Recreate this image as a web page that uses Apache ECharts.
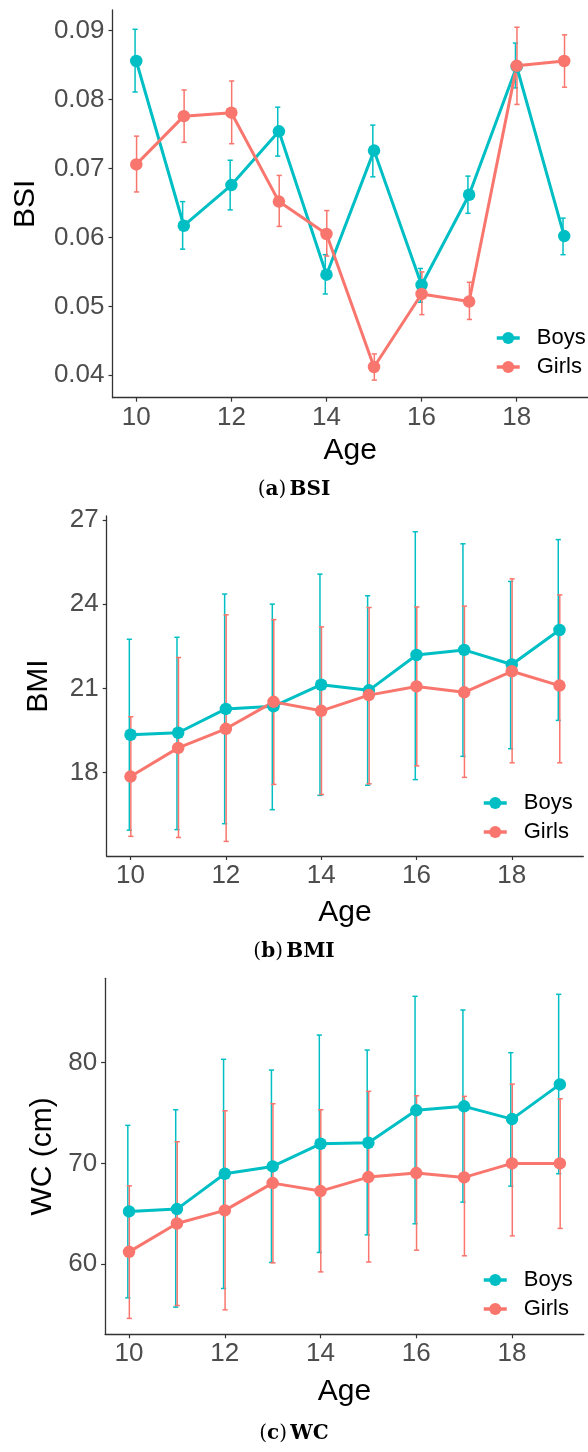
<!DOCTYPE html>
<html><head><meta charset="utf-8">
<script src="https://cdn.jsdelivr.net/npm/echarts@6/dist/echarts.min.js"></script>
<style>html,body{margin:0;padding:0;background:#fff;}#c{width:588px;height:1452px;}</style>
</head><body><div id="c"></div>
<script>
// ---- data ----
const ages = [10, 11, 12, 13, 14, 15, 16, 17, 18, 19];
const xTicks = [10, 12, 14, 16, 18];

const boysBSI   = [0.0856, 0.0617, 0.0676, 0.0754, 0.0546, 0.0726, 0.0531, 0.0662, 0.0848, 0.0602];
const boysBSIlo = [0.0811, 0.0583, 0.0640, 0.0718, 0.0518, 0.0688, 0.0506, 0.0635, 0.0817, 0.0575];
const boysBSIhi = [0.0902, 0.0652, 0.0712, 0.0789, 0.0575, 0.0763, 0.0555, 0.0689, 0.0882, 0.0628];
const girlsBSI   = [0.0706, 0.0776, 0.0781, 0.0652, 0.0605, 0.0412, 0.0518, 0.0507, 0.0849, 0.0856];
const girlsBSIlo = [0.0666, 0.0738, 0.0736, 0.0616, 0.0573, 0.0393, 0.0488, 0.0481, 0.0793, 0.0818];
const girlsBSIhi = [0.0747, 0.0814, 0.0827, 0.0690, 0.0639, 0.0431, 0.0550, 0.0535, 0.0905, 0.0894];
const bsiTicks = [0.04, 0.05, 0.06, 0.07, 0.08, 0.09];

const boysBMI   = [19.35, 19.42, 20.27, 20.36, 21.13, 20.93, 22.19, 22.37, 21.85, 23.08];
const boysBMIlo = [15.95, 15.97, 16.18, 16.68, 17.19, 17.55, 17.75, 18.58, 18.85, 19.86];
const boysBMIhi = [22.75, 22.82, 24.36, 24.00, 25.07, 24.30, 26.58, 26.15, 24.81, 26.30];
const girlsBMI   = [17.86, 18.88, 19.56, 20.52, 20.20, 20.76, 21.07, 20.86, 21.61, 21.10];
const girlsBMIlo = [15.73, 15.69, 15.55, 17.58, 17.22, 17.60, 18.24, 17.83, 18.35, 18.35];
const girlsBMIhi = [19.99, 22.10, 23.62, 23.45, 23.19, 23.88, 23.90, 23.93, 24.90, 24.33];
const bmiTicks = [18, 21, 24, 27];

const boysWC   = [65.23, 65.46, 68.97, 69.70, 71.95, 72.05, 75.27, 75.67, 74.40, 77.85];
const boysWClo = [56.64, 55.72, 57.57, 60.16, 61.15, 62.90, 64.00, 66.15, 67.74, 68.97];
const boysWChi = [73.78, 75.33, 80.34, 79.27, 82.75, 81.26, 86.60, 85.24, 81.00, 86.80];
const girlsWC   = [61.21, 64.03, 65.33, 68.04, 67.25, 68.64, 69.04, 68.61, 70.00, 70.00];
const girlsWClo = [54.60, 55.88, 55.45, 60.12, 59.22, 60.20, 61.38, 60.82, 62.80, 63.54];
const girlsWChi = [67.77, 72.15, 75.23, 75.93, 75.33, 77.16, 76.72, 76.66, 77.88, 76.42];
const wcTicks = [60, 70, 80];

const seriesNames = ['Boys', 'Girls'];
const xTitle = 'Age';

// ---- layout / style ----
const BOYS = '#00BFC4', GIRLS = '#F8766D';
const FONT = '"Liberation Sans", Arial, sans-serif';
const panels = [
  { yName: 'BSI', caption: ['a', 'BSI'], ticks: bsiTicks, fmt: v => v.toFixed(2),
    b: [boysBSI, boysBSIlo, boysBSIhi], g: [girlsBSI, girlsBSIlo, girlsBSIhi],
    grid: { left: 112.5, top: 10, width: 480, height: 387.7 }, ymin: 0.03675, ymax: 0.0930,
    yGap: 72, xGap: 38, legend: { left: 490, top: 320 }, capY: 493 },
  { yName: 'BMI', caption: ['b', 'BMI'], ticks: bmiTicks, fmt: v => String(v),
    b: [boysBMI, boysBMIlo, boysBMIhi], g: [girlsBMI, girlsBMIlo, girlsBMIhi],
    grid: { left: 106.7, top: 516, width: 476.6, height: 340 }, ymin: 15.03, ymax: 27.14,
    yGap: 53, xGap: 42, legend: { left: 477, top: 785 }, capY: 955 },
  { yName: 'WC (cm)', caption: ['c', 'WC'], ticks: wcTicks, fmt: v => String(v),
    b: [boysWC, boysWClo, boysWChi], g: [girlsWC, girlsWClo, girlsWChi],
    grid: { left: 105.1, top: 978.3, width: 478.7, height: 356 }, ymin: 53.02, ymax: 88.39,
    yGap: 45, xGap: 42, legend: { left: 477, top: 1262 }, capY: 1437 }
];

function errSeries(name, idx, lo, hi, color, off) {
  return {
    type: 'custom', name: name, xAxisIndex: idx, yAxisIndex: idx, z: 1, silent: true,
    data: ages.map((a, i) => [a, lo[i], hi[i]]),
    encode: { x: 0, y: [1, 2] },
    renderItem: function (params, api) {
      const p1 = api.coord([api.value(0), api.value(1)]);
      const p2 = api.coord([api.value(0), api.value(2)]);
      const x = p1[0] + off, cw = 2.6;
      const st = { stroke: color, lineWidth: 1.5 };
      return { type: 'group', children: [
        { type: 'line', shape: { x1: x, y1: p1[1], x2: x, y2: p2[1] }, style: st },
        { type: 'line', shape: { x1: x - cw, y1: p1[1], x2: x + cw, y2: p1[1] }, style: st },
        { type: 'line', shape: { x1: x - cw, y1: p2[1], x2: x + cw, y2: p2[1] }, style: st }
      ] };
    }
  };
}
function lineSeries(name, idx, vals, color) {
  return {
    type: 'line', name: name, xAxisIndex: idx, yAxisIndex: idx, z: 3,
    data: ages.map((a, i) => [a, vals[i]]),
    symbol: 'circle', symbolSize: 12.5, showSymbol: true,
    lineStyle: { color: color, width: 3 }, itemStyle: { color: color },
    emphasis: { disabled: true }
  };
}

const grid = [], xAxis = [], yAxis = [], series = [], legend = [], graphic = [];
panels.forEach((p, i) => {
  grid.push(Object.assign({ containLabel: false }, p.grid));
  xAxis.push({
    type: 'value', gridIndex: i, min: 9.5, max: 19.5,
    name: xTitle, nameLocation: 'middle', nameGap: p.xGap,
    nameTextStyle: { fontFamily: FONT, fontSize: 30, color: '#000' },
    axisLine: { show: true, onZero: false, lineStyle: { color: '#333', width: 1.3 } },
    axisTick: { show: true, customValues: xTicks, length: 4, lineStyle: { color: '#333', width: 1.2 } },
    axisLabel: { customValues: xTicks, fontFamily: FONT, fontSize: 26, color: '#4D4D4D', margin: 7 },
    splitLine: { show: false }
  });
  yAxis.push({
    type: 'value', gridIndex: i, min: p.ymin, max: p.ymax,
    name: p.yName, nameLocation: 'middle', nameRotate: 90, nameGap: p.yGap,
    nameTextStyle: { fontFamily: FONT, fontSize: 30, color: '#000' },
    axisLine: { show: true, onZero: false, lineStyle: { color: '#333', width: 1.3 } },
    axisTick: { show: true, customValues: p.ticks, length: 4, lineStyle: { color: '#333', width: 1.2 } },
    axisLabel: { customValues: p.ticks, formatter: p.fmt, fontFamily: FONT, fontSize: 26, color: '#4D4D4D', margin: 8 },
    splitLine: { show: false }
  });
  series.push(errSeries('Boys sd ' + i, i, p.b[1], p.b[2], BOYS, -1.2));
  series.push(errSeries('Girls sd ' + i, i, p.g[1], p.g[2], GIRLS, 0.3));
  series.push(lineSeries(seriesNames[0], i, p.b[0], BOYS));
  series.push(lineSeries(seriesNames[1], i, p.g[0], GIRLS));
  legend.push({
    data: seriesNames, orient: 'vertical', left: p.legend.left, top: p.legend.top,
    itemWidth: 23, itemHeight: 15, itemGap: 3, selectedMode: false,
    lineStyle: { width: 3.5 },
    textStyle: { fontFamily: FONT, fontSize: 22, color: '#000', lineHeight: 26, padding: [0, 0, 0, 12] }
  });
  graphic.push({
    type: 'text', left: 'center', top: p.capY - 13,
    style: {
      text: '{n|(}{b|' + p.caption[0] + '}{n|)} {b|' + p.caption[1] + '}',
      rich: {
        n: { fontFamily: '"DejaVu Serif", serif', fontSize: 20, fill: '#000' },
        b: { fontFamily: '"DejaVu Serif", serif', fontSize: 20, fontWeight: 'bold', fill: '#000' }
      }
    }
  });
});

const chart = echarts.init(document.getElementById('c'), null, { renderer: 'canvas' });
chart.setOption({ animation: false, backgroundColor: '#fff', grid, xAxis, yAxis, series, legend, graphic });
</script></body></html>
